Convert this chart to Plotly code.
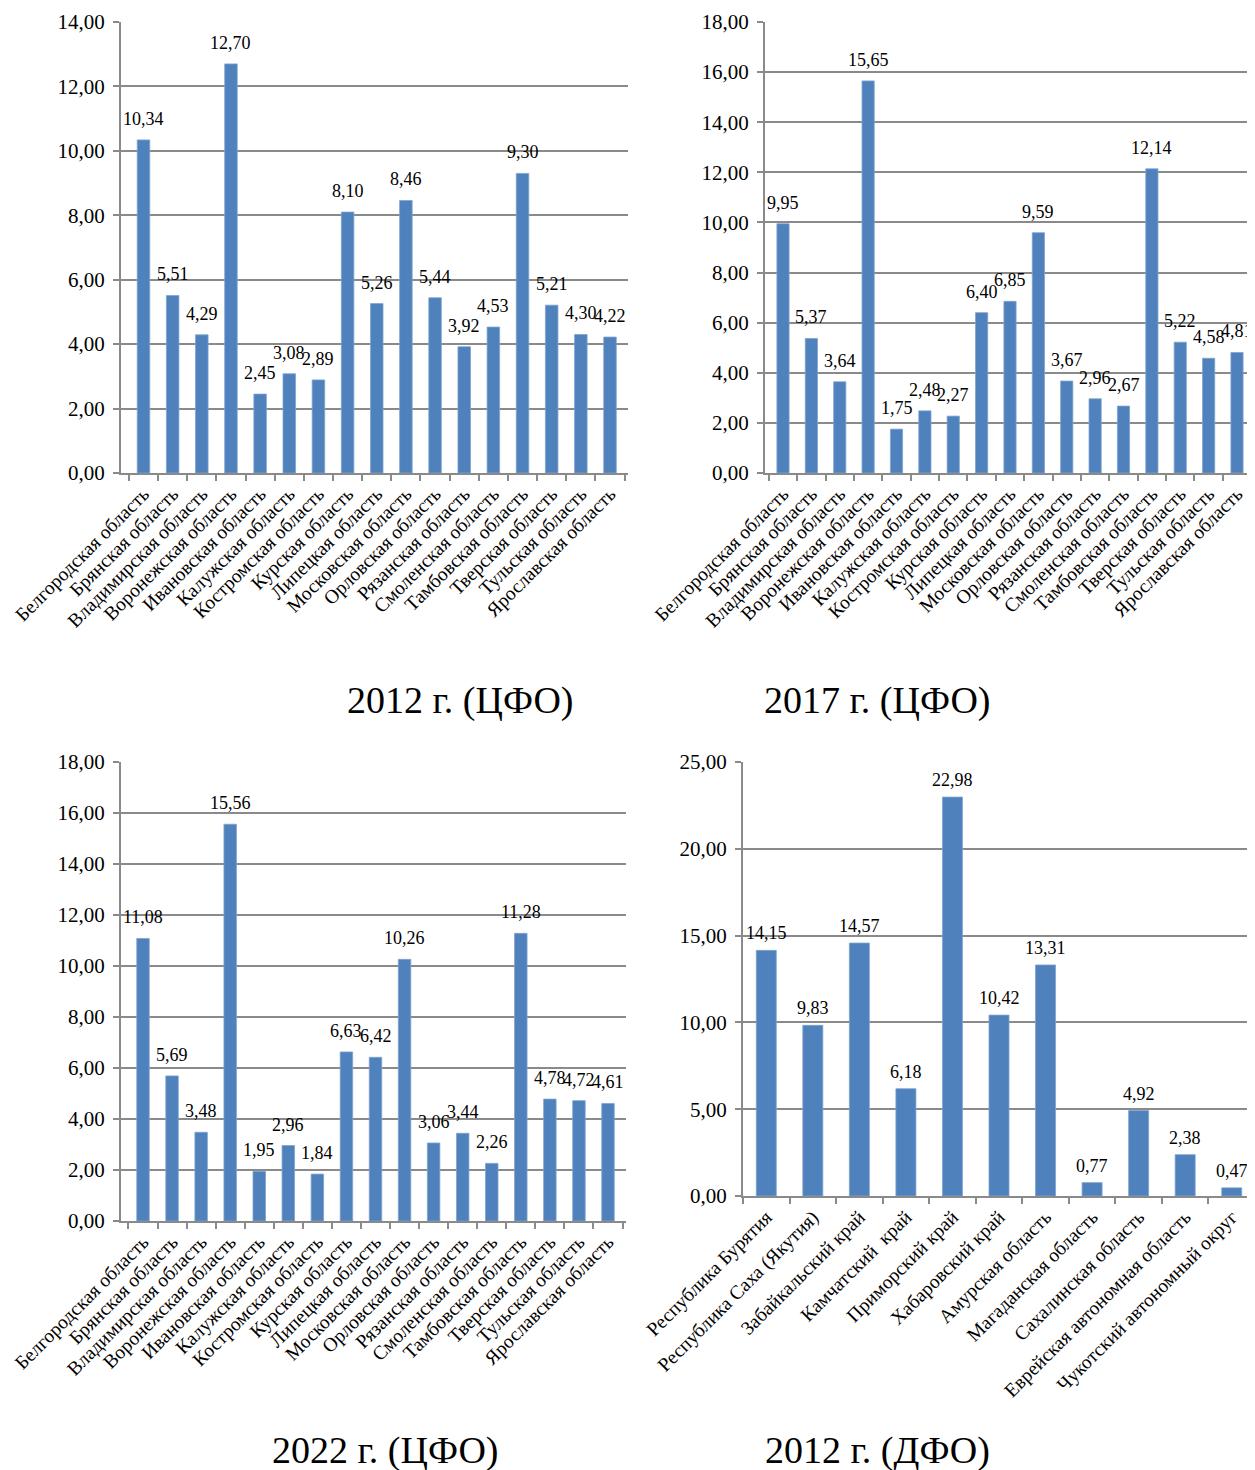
import plotly.graph_objects as go

# ---------------- data ----------------
cfo_regions = ["Белгородская область", "Брянская область", "Владимирская область",
               "Воронежская область", "Ивановская область", "Калужская область",
               "Костромская область", "Курская область", "Липецкая область",
               "Московская область", "Орловская область", "Рязанская область",
               "Смоленская область", "Тамбовская область", "Тверская область",
               "Тульская область", "Ярославская область"]
cfo_2012 = [10.34, 5.51, 4.29, 12.70, 2.45, 3.08, 2.89, 8.10, 5.26, 8.46, 5.44,
            3.92, 4.53, 9.30, 5.21, 4.30, 4.22]
cfo_2017 = [9.95, 5.37, 3.64, 15.65, 1.75, 2.48, 2.27, 6.40, 6.85, 9.59, 3.67,
            2.96, 2.67, 12.14, 5.22, 4.58, 4.81]
cfo_2022 = [11.08, 5.69, 3.48, 15.56, 1.95, 2.96, 1.84, 6.63, 6.42, 10.26, 3.06,
            3.44, 2.26, 11.28, 4.78, 4.72, 4.61]

dfo_regions = ["Республика Бурятия", "Республика Саха (Якутия)", "Забайкальский край",
               "Камчатский  край", "Приморский край", "Хабаровский край",
               "Амурская область", "Магаданская область", "Сахалинская область",
               "Еврейская автономная область", "Чукотский автономный округ"]
dfo_2012 = [14.15, 9.83, 14.57, 6.18, 22.98, 10.42, 13.31, 0.77, 4.92, 2.38, 0.47]

panel_titles = ["2012 г. (ЦФО)", "2017 г. (ЦФО)", "2022 г. (ЦФО)", "2012 г. (ДФО)"]
y_max = [14, 18, 18, 25]
y_step = [2, 2, 2, 5]

# ---------------- style ----------------
PAGE_W, PAGE_H = 1255, 1470
OFF = 8                       # default body margin of the html page
W, H = PAGE_W - OFF, PAGE_H - OFF
FONT = "Liberation Serif, Times New Roman, serif"
BAR = "#4F81BD"
GRID = "#8a8a8a"

# pixel boxes on the page (left, right, top, bottom)
boxes = [(121, 628, 22, 473), (765, 1255, 22, 473),
         (121, 626, 762, 1221), (743, 1255, 762, 1196)]
label_shift = [21, 21, 21, 17]
title_pos = [(460, 700), (877, 700), (385, 1450), (877, 1450)]

panels = [(cfo_regions, cfo_2012), (cfo_regions, cfo_2017),
          (cfo_regions, cfo_2022), (dfo_regions, dfo_2012)]


def px(x):
    return (x - OFF) / W


def py(y):
    return 1 - (y - OFF) / H


fig = go.Figure()
annotations = []
for i, (cats, vals) in enumerate(panels):
    n = "" if i == 0 else str(i + 1)
    fig.add_trace(go.Bar(x=cats, y=vals,
                         marker=dict(color=BAR, line=dict(width=0.8, color="#7fa3cf")),
                         xaxis="x" + n, yaxis="y" + n, showlegend=False,
                         hoverinfo="x+y"))
    l, r, t, b = boxes[i]
    fig.layout["xaxis" + n] = dict(
        domain=[px(l), min(px(r), 1.0)], anchor="y" + n, type="category",
        automargin=False,
        tickangle=-45, ticks="outside", tickson="boundaries", ticklen=6,
        tickcolor=GRID, tickwidth=1.5, showline=True, linecolor=GRID, linewidth=2,
        tickfont=dict(family=FONT, size=19.5, color="black"), showgrid=False)
    fig.layout["yaxis" + n] = dict(
        domain=[py(b), py(t)], anchor="x" + n, range=[0, y_max[i]],
        automargin=False, ticklabelstandoff=4,
        dtick=y_step[i], tick0=0, tickformat=".2f", ticks="outside", ticklen=6,
        tickcolor=GRID, tickwidth=1.5, showline=True, linecolor=GRID, linewidth=2,
        showgrid=True, gridcolor=GRID, gridwidth=2, zeroline=False,
        tickfont=dict(family=FONT, size=21, color="black"))
    for c, v in zip(cats, vals):
        annotations.append(dict(
            x=c, y=v, xref="x" + n, yref="y" + n, text=f"{v:.2f}".replace(".", ","),
            showarrow=False, yanchor="middle", yshift=label_shift[i],
            font=dict(family=FONT, size=18, color="black")))
    tx, ty = title_pos[i]
    annotations.append(dict(
        x=px(tx), y=py(ty), xref="paper", yref="paper", text=panel_titles[i],
        showarrow=False, xanchor="center", yanchor="middle",
        font=dict(family=FONT, size=38, color="black")))

fig.update_layout(
    width=W, height=H, margin=dict(l=0, r=0, t=0, b=0),
    paper_bgcolor="white", plot_bgcolor="white",
    bargap=0.57, separators=", ", annotations=annotations,
    font=dict(family=FONT, color="black"))

fig.write_html("out.html")
